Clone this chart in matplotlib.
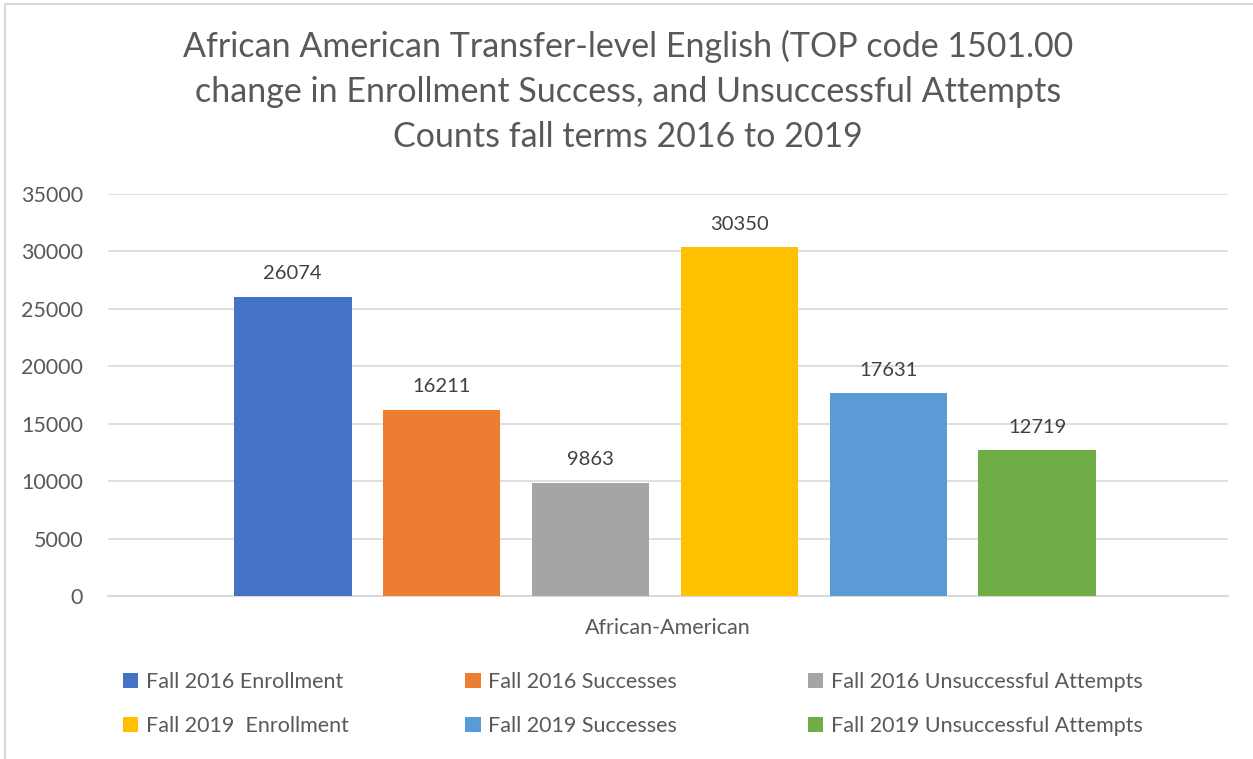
import matplotlib.pyplot as plt
from matplotlib.patches import Rectangle
import numpy as np

plt.rcParams['font.family'] = ['Lato', 'DejaVu Sans']

category = "African-American"
series = ["Fall 2016 Enrollment", "Fall 2016 Successes", "Fall 2016 Unsuccessful Attempts",
          "Fall 2019  Enrollment", "Fall 2019 Successes", "Fall 2019 Unsuccessful Attempts"]
values = [26074, 16211, 9863, 30350, 17631, 12719]
colors = ["#4472C4", "#ED7D31", "#A5A5A5", "#FFC000", "#5B9BD5", "#70AD47"]
yticks = [0, 5000, 10000, 15000, 20000, 25000, 30000, 35000]
title = ("African American Transfer-level English (TOP code 1501.00\n"
         "change in Enrollment Success, and Unsuccessful Attempts\n"
         "Counts fall terms 2016 to 2019")

text_col = "#595959"

fig = plt.figure(figsize=(12.53, 7.59), dpi=100)
ax = fig.add_axes([0.0862, 0.2148, 0.8938, 0.5296])

# chart border (light gray, left and top visible)
fig.patches.append(Rectangle((5 / 1253, -0.1), 1.2, (759 - 4) / 759 + 0.1,
                             transform=fig.transFigure, fill=False,
                             edgecolor="#d9d9d9", lw=1.5))

n = len(values)
offsets = np.arange(n) - (n - 1) / 2
bars = []
for i, (lab, v, c) in enumerate(zip(series, values, colors)):
    b = ax.bar(offsets[i], v, width=0.79, color=c, label=lab, zorder=3)
    bars.append(b[0])
    ax.text(offsets[i], v + 1250, f"{v}", ha="center", va="bottom",
            fontsize=14.5, color="#404040")

ax.set_xlim(-3.74, 3.78)
ax.set_ylim(0, 35000)
ax.set_yticks(yticks)
ax.set_yticklabels([str(t) for t in yticks], fontsize=15.5, color=text_col)
ax.set_xticks([0.02])
ax.set_xticklabels([category], fontsize=15.5, color=text_col)
ax.tick_params(axis="both", length=0)
ax.tick_params(axis="y", pad=18)
ax.tick_params(axis="x", pad=16)
ax.grid(axis="y", color="#d9d9d9", lw=1.2, zorder=0)
for s in ["top", "right", "left"]:
    ax.spines[s].set_visible(False)
ax.spines["bottom"].set_color("#d9d9d9")
ax.spines["bottom"].set_linewidth(1.5)

fig.text(0.501, 0.960, title, ha="center", va="top", fontsize=24.5,
         color=text_col, linespacing=1.5)

# legend: three columns, each placed at its own x position
col_x = [0.0985, 0.3715, 0.645]
for k in range(3):
    idx = [k, k + 3]
    leg = fig.legend([bars[i] for i in idx], [series[i] for i in idx],
                     loc="upper left", bbox_to_anchor=(col_x[k], 0.115),
                     frameon=False, fontsize=15.5, handlelength=0.7, handleheight=0.7,
                     handletextpad=0.35, labelspacing=1.15,
                     borderaxespad=0, borderpad=0)
    for t in leg.get_texts():
        t.set_color(text_col)

fig.savefig("out.png", dpi=100)
